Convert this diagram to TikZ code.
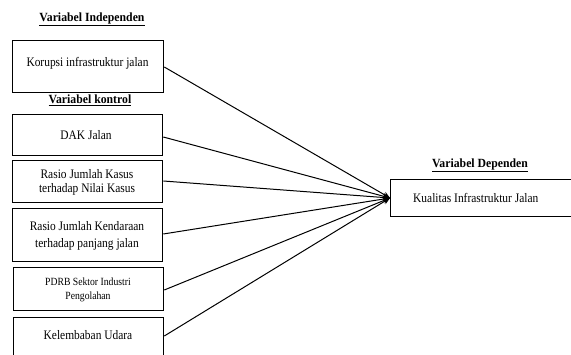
\documentclass[tikz,border=0pt]{standalone}
\usepackage{fontspec}
\usepackage{graphicx}
\setmainfont{Liberation Serif}
\newcommand\condtxt[2][0.88]{\scalebox{#1}[1]{#2}}
\newcommand\condtwo[3]{\scalebox{0.88}[1]{\begin{tabular}{@{}c@{}}#1\\[#3]#2\end{tabular}}}
\usetikzlibrary{arrows.meta}
\begin{document}
\begin{tikzpicture}[x=1pt,y=-1pt,
  varbox/.style={draw,line width=1.3pt,inner sep=0pt,anchor=north west,minimum width=150pt},
  vtext/.style={inner sep=0pt,font=\fontsize{13}{13}\selectfont},
  ttl/.style={font=\fontsize{12.5}{15}\selectfont\bfseries,inner sep=0pt},
  conn/.style={line width=1pt,-{Stealth[length=7pt,width=6pt]}}]
\useasboundingbox (0,0) rectangle (571,355);
\clip (0,0) rectangle (571,355);
\node[ttl] (t1) at (92,19) {\condtxt[0.94]{\underline{Variabel Independen}}};
\node[ttl] (t2) at (90,100) {\condtxt[0.94]{\underline{Variabel kontrol}}};
\node[ttl] (t3) at (480,165) {\condtxt[0.94]{\underline{Variabel Dependen}}};
\node[varbox,minimum width=151pt,minimum height=52pt] (b1) at (12,40) {};
\node[vtext] (b1t) at (87.5,63) {\condtxt{Korupsi infrastruktur jalan}};
\node[varbox,minimum height=41pt] (b2) at (12,114) {};
\node[vtext] (b2t) at (86,135) {\condtxt{DAK Jalan}};
\node[varbox,minimum height=42pt] (b3) at (12,160) {};
\node[vtext] (b3t) at (87,183) {\condtwo{Rasio Jumlah Kasus}{terhadap Nilai Kasus}{1pt}};
\node[varbox,minimum height=53pt] (b4) at (12,208) {};
\node[vtext] (b4t) at (87,236) {\condtwo{Rasio Jumlah Kendaraan}{terhadap panjang jalan}{4pt}};
\node[varbox,minimum height=43pt] (b5) at (13,267) {};
\node[vtext,font=\fontsize{11}{11}\selectfont] (b5t) at (88,290) {\condtwo{PDRB Sektor Industri}{Pengolahan}{3pt}};
\node[varbox,minimum height=68pt] (b6) at (13,317) {};
\node[vtext] (b6t) at (88,335) {\condtxt{Kelembaban Udara}};
\node[varbox,minimum width=200pt,minimum height=37pt] (dep) at (390,179) {};
\node[vtext,anchor=west] (dept) at (413,198) {\condtxt{Kualitas Infrastruktur Jalan}};
\coordinate (tip) at (390,198);
\draw[conn] (b1.east |- 0,67) -- (tip);
\draw[conn] (b2.east |- 0,137) -- (tip);
\draw[conn] (b3.east |- 0,181) -- (tip);
\draw[conn] (b4.east |- 0,234) -- (tip);
\draw[conn] (b5.east |- 0,290) -- (tip);
\draw[conn] (b6.east |- 0,336) -- (tip);
\end{tikzpicture}
\end{document}
